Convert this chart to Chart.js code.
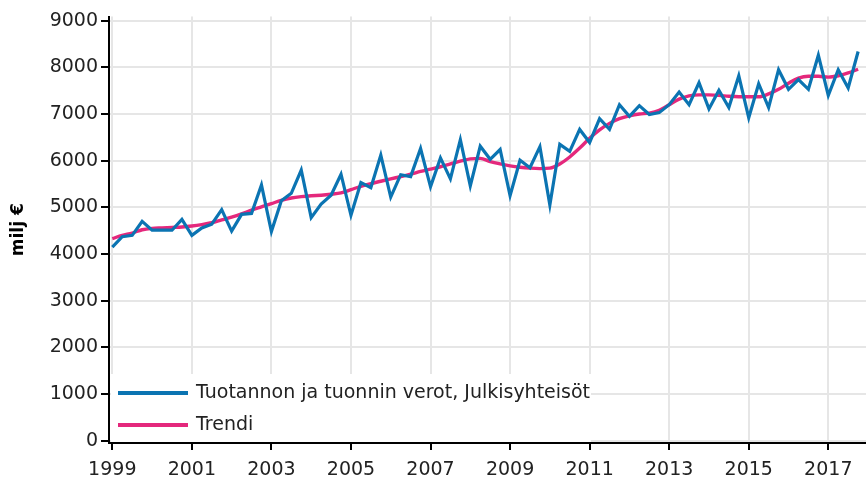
<!DOCTYPE html>
<html>
<head>
<meta charset="utf-8">
<script src="https://cdn.jsdelivr.net/npm/chart.js@4.4.1/dist/chart.umd.min.js"></script>
<style>
  html, body { margin: 0; padding: 0; background: #ffffff; }
  #wrap { width: 866px; height: 482px; }
</style>
</head>
<body>
<div id="wrap"><canvas id="c" width="866" height="482"></canvas></div>
<script>
// ---- data ----
const quarters = [
  "1999Q1","1999Q2","1999Q3","1999Q4","2000Q1","2000Q2","2000Q3","2000Q4",
  "2001Q1","2001Q2","2001Q3","2001Q4","2002Q1","2002Q2","2002Q3","2002Q4",
  "2003Q1","2003Q2","2003Q3","2003Q4","2004Q1","2004Q2","2004Q3","2004Q4",
  "2005Q1","2005Q2","2005Q3","2005Q4","2006Q1","2006Q2","2006Q3","2006Q4",
  "2007Q1","2007Q2","2007Q3","2007Q4","2008Q1","2008Q2","2008Q3","2008Q4",
  "2009Q1","2009Q2","2009Q3","2009Q4","2010Q1","2010Q2","2010Q3","2010Q4",
  "2011Q1","2011Q2","2011Q3","2011Q4","2012Q1","2012Q2","2012Q3","2012Q4",
  "2013Q1","2013Q2","2013Q3","2013Q4","2014Q1","2014Q2","2014Q3","2014Q4",
  "2015Q1","2015Q2","2015Q3","2015Q4","2016Q1","2016Q2","2016Q3","2016Q4",
  "2017Q1","2017Q2","2017Q3","2017Q4"
];
const taxes = [
  4150,4370,4400,4700, 4510,4510,4510,4740, 4400,4560,4640,4950,
  4490,4850,4870,5480, 4480,5140,5300,5800, 4780,5070,5260,5710,
  4830,5530,5420,6120, 5220,5700,5660,6260, 5440,6060,5610,6450,
  5460,6310,6030,6240, 5250,6010,5850,6300, 5050,6350,6200,6670,
  6390,6900,6670,7200, 6950,7180,6990,7030, 7200,7470,7200,7670,
  7110,7510,7140,7820, 6920,7650,7140,7950, 7530,7740,7530,8260,
  7400,7950,7560,8340
];
const trend = [
  4330,4400,4450,4520, 4550,4560,4570,4580, 4600,4630,4670,4730,
  4790,4860,4940,5010, 5080,5150,5200,5230, 5250,5260,5280,5310,
  5380,5450,5510,5560, 5610,5660,5710,5770, 5820,5870,5930,5990,
  6040,6050,5980,5930, 5890,5860,5840,5830, 5840,5930,6080,6270,
  6480,6660,6800,6900, 6960,7000,7020,7080, 7200,7320,7390,7410,
  7410,7400,7380,7370, 7370,7370,7430,7530, 7660,7770,7810,7810,
  7790,7820,7880,7960
];
const seriesNames = ["Tuotannon ja tuonnin verot, Julkisyhteisöt", "Trendi"];
const xTickYears = [1999,2001,2003,2005,2007,2009,2011,2013,2015,2017];
const yTickValues = [0,1000,2000,3000,4000,5000,6000,7000,8000,9000];
const yAxisTitle = "milj €";

// ---- build ----
function qToX(label) {
  const y = parseInt(label.slice(0, 4), 10);
  const q = parseInt(label.slice(5), 10);
  return y + (q - 1) / 4;
}
const taxPts = quarters.map((l, i) => ({ x: qToX(l), y: taxes[i] }));
const trendPts = quarters.map((l, i) => ({ x: qToX(l), y: trend[i] }));

const FONT = "'DejaVu Sans', Verdana, sans-serif";
const BLUE = '#0b74b2';
const PINK = '#e4287c';

const boxLegend = {
  id: 'boxLegend',
  beforeDatasetsDraw(chart) {
    const ctx = chart.ctx;
    ctx.save();
    ctx.fillStyle = '#ffffff';
    ctx.fillRect(111, 374, 480, 68);
    const rows = [393, 425];
    chart.data.datasets.forEach((ds, i) => {
      const y = rows[i];
      ctx.strokeStyle = ds.borderColor;
      ctx.lineWidth = 4;
      ctx.lineCap = 'butt';
      ctx.beginPath();
      ctx.moveTo(118, y);
      ctx.lineTo(188, y);
      ctx.stroke();
      ctx.fillStyle = '#222222';
      ctx.font = '19px ' + FONT;
      ctx.textBaseline = 'middle';
      ctx.textAlign = 'left';
      ctx.fillText(ds.label, 196, y);
    });
    ctx.restore();
  }
};

new Chart(document.getElementById('c'), {
  type: 'line',
  data: {
    datasets: [
      { label: seriesNames[0], data: taxPts, borderColor: BLUE, borderWidth: 3.2,
        pointRadius: 0, tension: 0, fill: false },
      { label: seriesNames[1], data: trendPts, borderColor: PINK, borderWidth: 3.4,
        pointRadius: 0, tension: 0.4, cubicInterpolationMode: 'monotone', fill: false }
    ]
  },
  options: {
    responsive: false,
    devicePixelRatio: 1,
    animation: false,
    layout: { padding: { top: 16.5, right: 0, left: 0, bottom: 0 } },
    plugins: { legend: { display: false }, tooltip: { enabled: false } },
    scales: {
      x: {
        type: 'linear',
        min: 1998.917,
        max: 2017.948,
        afterBuildTicks: (s) => { s.ticks = xTickYears.map(v => ({ value: v })); },
        afterFit: (s) => { s.height = 39; },
        ticks: {
          callback: (v) => String(v),
          color: '#222222',
          font: { family: FONT, size: 19 },
          padding: 9,
          maxRotation: 0,
          autoSkip: false
        },
        grid: { color: '#e6e6e6', lineWidth: 2, tickColor: '#000000', tickLength: 7 },
        border: { color: '#000000', width: 2 }
      },
      y: {
        type: 'linear',
        min: -50,
        max: 9090,
        afterBuildTicks: (s) => { s.ticks = yTickValues.map(v => ({ value: v })); },
        afterFit: (s) => { s.width = 109; },
        title: {
          display: true, text: yAxisTitle, color: '#000000',
          font: { family: FONT, size: 17, weight: 'bold' },
          padding: { top: 8, bottom: 0 }
        },
        ticks: {
          callback: (v) => String(v),
          color: '#222222',
          font: { family: FONT, size: 19 },
          padding: 3
        },
        grid: { color: '#e6e6e6', lineWidth: 2, tickColor: '#000000', tickLength: 8 },
        border: { color: '#000000', width: 2 }
      }
    }
  },
  plugins: [boxLegend]
});
</script>
</body>
</html>
